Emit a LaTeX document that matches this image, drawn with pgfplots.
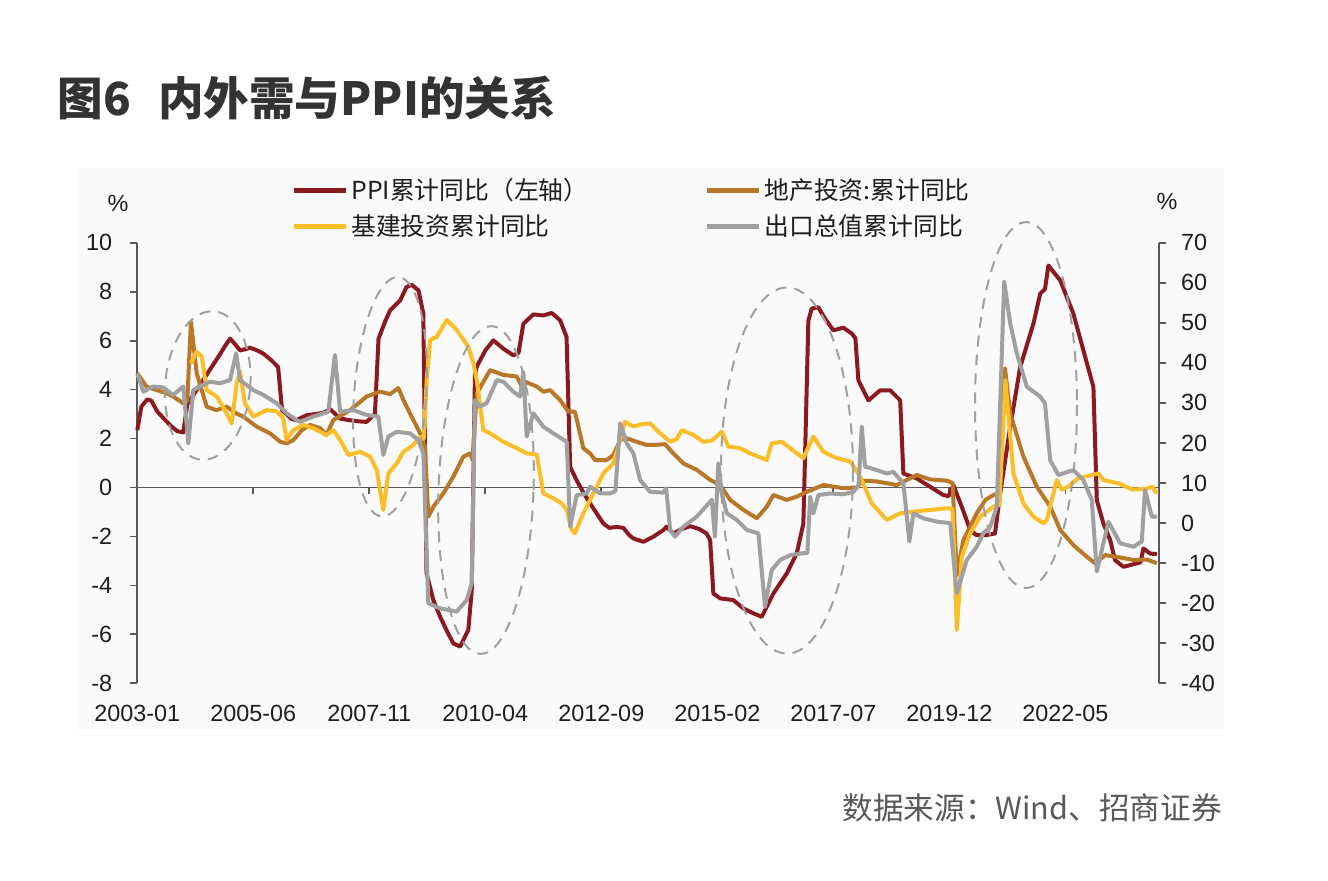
\documentclass[border=0pt]{standalone}
\usepackage{fontspec}
\setmainfont{Liberation Sans}
\newfontfamily\cjk{Noto Sans CJK SC}
\usepackage{pgfplots}
\pgfplotsset{compat=1.18}
\definecolor{ppi}{RGB}{139,26,32}
\definecolor{re}{RGB}{184,120,40}
\definecolor{infra}{RGB}{252,190,40}
\definecolor{ex}{RGB}{160,160,160}
\definecolor{axc}{RGB}{89,89,89}
\definecolor{ell}{RGB}{160,160,160}
\definecolor{panel}{RGB}{250,250,250}
\definecolor{titlec}{RGB}{51,51,51}
\definecolor{srcc}{RGB}{89,89,89}
\definecolor{tickc}{RGB}{30,30,30}
\begin{document}
\begin{tikzpicture}
\begin{scope}[x=0.5pt,y=-0.5pt]
\path[use as bounding box] (0,0) rectangle (1328,880);
\fill[white] (0,0) rectangle (1328,880);
\fill[panel] (77,168) rectangle (1224,730);
\node[anchor=west, text=titlec, font=\cjk\bfseries\fontsize{22.8}{27}\selectfont, inner sep=0pt] at (57,98) {图6\hspace{0.6em}内外需与PPI的关系};
\node[anchor=east, text=srcc, font=\cjk\fontsize{15.3}{18}\selectfont, inner sep=0pt] at (1222,808) {数据来源：Wind、招商证券};
\node[font=\fontsize{11.7}{14}\selectfont, text=tickc, inner sep=0pt] at (118,203) {\%};
\node[font=\fontsize{11.7}{14}\selectfont, text=tickc, inner sep=0pt] at (1167,201) {\%};
\end{scope}

\begin{axis}[
  at={(68.65pt,-341.65pt)}, anchor=south west,
  scale only axis, width=510.85pt, height=220.3pt,
  xmin=0, xmax=255.4, ymin=-8, ymax=10,
  axis y line*=left, axis x line*=bottom,
  x axis line style={draw=none},
  y axis line style={axc, line width=0.9pt},
  major x tick style={draw=none},
  ytick={-8,-6,...,10},
  xtick={0,29,58,87,116,145,174,203,232},
  xticklabels={2003-01,2005-06,2007-11,2010-04,2012-09,2015-02,2017-07,2019-12,2022-05},
  tick align=outside, major tick length=3.5pt,
  major y tick style={axc, line width=0.9pt},
  tick label style={font=\fontsize{11.7}{14}\selectfont, text=tickc},
  xticklabel style={yshift=-4pt},
  yticklabel style={xshift=-5.5pt},
  /pgf/number format/assume math mode=true,
  clip=false,
]
\draw[axc, line width=0.9pt] (axis cs:0,0) -- (axis cs:255.4,0);
\pgfplotsinvokeforeach{29,58,87,116,145,174,203,232}{\draw[axc, line width=0.9pt] (axis cs:#1,0) -- ++(0pt,-3.5pt);}
\addplot[ppi, line width=2pt, line join=round] coordinates {
(0,2.34) (1,3.3) (2.5,3.6) (3.5,3.55) (5,3.1) (7,2.75) (8.5,2.5) (10,2.3) (11.5,2.25)
(12.5,3.4) (14.5,3.9) (16.5,4.4) (18.5,4.9) (20.5,5.4) (22,5.8) (23.2,6.08) (24.2,5.9)
(25.7,5.6) (27,5.65) (28.2,5.71) (30,5.6) (31.5,5.47) (33.5,5.2) (35.2,4.92) (36.2,3.15)
(37.3,3.0) (38.5,2.8) (39.8,2.75) (41,2.85) (42.3,2.95) (44.5,3.0) (46.5,3.05) (48.2,3.2)
(49.5,3.0) (50.7,2.82) (53,2.75) (55.5,2.7) (57.3,2.68) (59.4,3.0) (60.3,6.08) (62,6.8)
(63.2,7.24) (65.7,7.64) (67.3,8.19) (68.6,8.28) (70.3,8.05) (71.5,7.1) (72.3,-3.5) (74,-4.6)
(75.7,-5.28) (77.5,-5.9) (79,-6.37) (80.7,-6.5) (82.75,-5.82) (83.6,-4.19) (84.4,4.6)
(84.8,4.92) (87,5.6) (89,6.01) (91.5,5.67) (94,5.4) (95.3,5.5) (96.5,6.69) (99,7.07)
(101.5,7.03) (103.6,7.13) (105.7,6.83) (107.3,6.15) (108.2,0.84) (109.8,0.3) (111.5,-0.2)
(113.2,-0.65) (115,-1.1) (116.5,-1.47) (118,-1.65) (119.8,-1.61) (121.5,-1.65) (123,-1.95)
(124,-2.08) (126.5,-2.22) (129,-2.01) (131.5,-1.74) (132.3,-1.6) (134,-1.88) (136,-1.7)
(138.2,-1.58) (140.5,-1.7) (142.3,-1.88) (143.2,-2.15) (144,-4.33) (145.7,-4.53) (149,-4.6)
(151.5,-4.94) (154,-5.14) (156.1,-5.28) (159,-4.33) (162.35,-3.51) (164.85,-2.69)
(166.5,-1.47) (167.75,6.83) (168.6,7.31) (170.2,7.37) (171.9,6.9) (174,6.42) (176.5,6.53)
(178.6,6.29) (179.5,6.1) (180.25,4.38) (182.75,3.56) (185.7,3.97) (188.2,3.97) (190.7,3.56)
(191.5,0.57) (194.85,0.37) (198.2,0.03) (201.5,-0.31) (202.8,-0.35) (204,0.09) (206.1,-0.79)
(208.2,-1.74) (209.8,-1.95) (212,-1.95) (214.4,-1.88) (215.7,-0.24) (218.2,2.47) (220.7,4.92)
(224,6.69) (225.7,7.92) (226.9,8.11) (227.75,9.07) (230.7,8.46) (234,7.1) (236.5,5.6)
(239,4.11) (239.85,-0.52) (241.5,-1.47) (243.2,-2.15) (244.4,-2.97) (246.5,-3.24)
(249.85,-3.1) (250.8,-3.05) (251.5,-2.49) (253.2,-2.7) (254.85,-2.72)
};
\end{axis}

\begin{axis}[
  at={(68.65pt,-341.65pt)}, anchor=south west,
  scale only axis, width=510.85pt, height=220.3pt,
  xmin=0, xmax=255.4, ymin=-40, ymax=70,
  axis y line*=right, hide x axis,
  y axis line style={axc, line width=0.9pt},
  ytick={-40,-30,...,70},
  tick align=outside, major tick length=3.5pt,
  major y tick style={axc, line width=0.9pt},
  tick label style={font=\fontsize{11.7}{14}\selectfont, text=tickc},
  yticklabel style={xshift=4pt},
  /pgf/number format/assume math mode=true,
  clip=false,
  legend columns=2,
  legend style={at={(0.1504,1.1537)}, anchor=north west, draw=none, fill=none, inner sep=0pt,
    font=\cjk\fontsize{12.4}{14}\selectfont, text=tickc,
    /tikz/every even column/.append style={column sep=56.5pt}, row sep=3pt,
    nodes={inner sep=1.5pt}},
  legend cell align=left,
  legend image code/.code={\draw[#1, line width=2.5pt] (0pt,0pt) -- (26pt,0pt);},
]
\addlegendimage{ppi}
\addlegendentry{PPI累计同比（左轴）}
\addplot[re, line width=2pt, line join=round] coordinates {
(0,37.4) (2.3,34.06) (4.85,33.2) (7.35,32.4) (9,31.6) (11.5,29.9) (12.5,30.5) (13.4,50.3)
(14.85,37.4) (17.35,29.06) (19.8,28.2) (22.35,29.06) (24.5,27.5) (26.5,26.57) (29.85,24.07)
(33.2,22.4) (35.7,20.3) (37.3,19.9) (39,20.7) (41.1,23.2) (43.2,24.5) (45.7,23.7) (47.3,22.0)
(49,25.7) (53.2,28.2) (57.3,31.6) (60.7,32.8) (63.2,32.2) (65.25,33.7) (66.9,29.9) (70.7,22.4)
(71.9,19.1) (72.75,1.6) (74,4.1) (76.5,7.4) (79,11.6) (81.5,16.6) (83.2,17.4) (83.8,15.8)
(84.85,32.4) (88.2,38.2) (91.5,37.0) (94.85,36.6) (96.1,34.1) (96.9,35.3) (99.85,34.1)
(101.5,32.8) (103.2,33.2) (105.7,30.7) (107.75,27.8) (109.4,27.8) (111.5,18.7) (113.2,17.4)
(114.4,15.75) (117.35,15.75) (119,17.0) (120.7,20.7) (122.35,21.2) (124.85,20.3) (127.35,19.5)
(129,19.5) (131.9,19.7) (134,17.4) (136.5,14.9) (139.85,13.3) (143.2,10.8) (145.7,9.5)
(148.2,5.8) (151.5,3.3) (154.85,1.2) (157.35,4.1) (159,7.0) (162.35,5.8) (164.85,6.6)
(167.35,7.8) (171.5,9.5) (176.5,8.7) (179.85,8.9) (181.5,10.6) (184.85,10.4) (189.85,9.5)
(193.2,11.2) (194.85,12.0) (198.2,10.9) (202.35,10.6) (203.8,10.0) (204.85,-13.0) (206.5,-4.2)
(209.85,2.45) (212,5.8) (214,7.0) (215.5,7.5) (216.9,38.65) (218.2,27.4) (221.5,16.6)
(224.85,9.1) (228.2,4.1) (230.7,-1.7) (234,-5.5) (237.35,-8.4) (239.4,-10.0) (242,-8.0)
(245.7,-8.6) (249,-9.2) (252.35,-9.1) (254.85,-10.0)
};
\addlegendentry{地产投资:累计同比}
\addplot[infra, line width=2pt, line join=round] coordinates {
(13.4,39.9) (14.85,42.8) (16.1,41.55) (17.35,33.2) (19.85,31.6) (21.9,28.2) (23.6,24.9)
(24.85,34.9) (25.7,37.8) (26.9,29.9) (29,26.6) (32.35,28.2) (34.85,27.9) (36.5,26.2)
(37.3,20.75) (39,23.2) (41.5,24.5) (44,23.7) (47.3,22.0) (49,23.2) (50.7,20.75) (52.75,17.0)
(55.7,17.8) (58.2,16.6) (59.85,13.25) (61.5,3.3) (62.75,12.4) (64.85,14.9) (66.5,17.8)
(69,19.5) (70.7,21.6) (71.6,21.0) (72.35,35.7) (73.2,45.7) (74.85,46.5) (77.35,50.7)
(79.85,48.2) (82.75,44.0) (84,40.0) (84.85,35.7) (86.5,23.2) (88.2,22.4) (91.5,20.3)
(94.85,18.7) (97.35,17.4) (99.85,17.1) (101.5,7.4) (104,6.2) (106.1,4.9) (107.35,3.3)
(108.6,-1.7) (109.4,-2.55) (111.5,2.45) (114,7.4) (116.5,12.4) (119,14.9) (120.7,20.75)
(121.9,25.3) (124,24.1) (126,24.7) (128.2,24.9) (129.85,23.2) (133.2,20.3) (134.85,21.0)
(136.1,23.2) (139,22.0) (141.5,20.3) (143.6,20.6) (146.1,22.8) (147.75,19.1) (150.7,18.7)
(153.2,17.4) (157.35,15.75) (158.6,19.9) (161.1,20.3) (163.2,18.7) (166.5,16.2) (169,21.6)
(171.5,17.8) (174.85,16.2) (178.2,15.4) (180.7,11.6) (183.6,4.9) (187.35,0.8) (190.7,2.45)
(194,2.85) (198.2,3.3) (202.35,3.7) (203.8,3.6) (204.85,-26.7) (206.1,-8.4) (208.2,-2.55)
(210.7,1.6) (214,4.1) (215.5,4.5) (217,35.7) (219,12.4) (221.5,4.9) (224,1.6) (226.5,-0.05)
(227.35,0.8) (229.85,10.75) (231.1,8.3) (232.7,9.1) (235.2,11.2) (240.2,12.4) (241.5,10.75)
(245.35,9.9) (248.7,8.4) (252,8.5) (253.7,9.1) (254.85,7.4)
};
\addlegendentry{基建投资累计同比}
\addplot[ex, line width=2pt, line join=round] coordinates {
(0,37.4) (1.5,32.8) (3.9,34.1) (6.4,33.9) (9,32.0) (11.5,34.1) (12.75,19.9) (14,33.2)
(15.7,34.1) (18.2,35.3) (20.7,34.9) (23.2,35.7) (24.7,42.4) (25.7,35.7) (29,33.2) (31.5,32.0)
(34.85,29.9) (37.35,27.4) (39.85,25.7) (40.7,25.3) (44,26.6) (47.75,27.8) (49.4,42.0)
(50.7,27.8) (54,28.2) (57.3,27.0) (60.25,26.6) (61.5,17.0) (62.75,21.6) (64.85,22.8)
(68.2,22.4) (70.25,20.75) (71.5,17.4) (72.75,-20.0) (75.7,-21.3) (79.85,-22.1) (82.35,-19.2)
(83.6,-15.0) (84.4,30.7) (85.7,29.1) (87.35,30.0) (89.85,35.7) (91.5,35.3) (94,32.8)
(95.7,31.6) (96.5,37.8) (97.35,21.6) (99,27.4) (101.5,24.07) (104,22.4) (107.35,20.3)
(108.2,-0.9) (109.85,7.0) (112.35,7.4) (113.2,9.1) (115.7,7.4) (118.2,7.4) (119.5,8.0)
(120.7,24.9) (122.35,19.9) (124,17.4) (125.7,10.75) (128.2,7.8) (131.5,7.6) (132.2,8.7)
(133.2,-1.7) (134.4,-3.4) (136.5,-0.9) (139.85,1.6) (143.6,5.8) (144.4,-3.4) (145.25,14.9)
(146.1,7.4) (147.35,2.45) (149.85,0.8) (152.35,-1.7) (155.25,-2.55) (156.9,-20.9)
(158.6,-11.7) (160.7,-9.2) (163.2,-8.0) (166.5,-7.5) (167.5,-7.5) (168.2,6.6) (169,2.45)
(170.25,7.0) (173.2,7.4) (176.5,7.2) (179,7.8) (180.3,9.5) (181.1,24.1) (181.9,14.1)
(184.85,13.25) (187.35,12.4) (189,12.8) (191.5,9.9) (193,-4.6) (194,2.45) (196.5,1.2)
(199.85,0.35) (203.2,0.0) (204.85,-17.5) (207.35,-9.2) (209.85,-5.9) (211.5,-2.5)
(213.2,-1.0) (214.85,4.1) (216.7,60.3) (218.2,49.9) (219.85,42.4) (222.35,34.06) (225.7,31.6)
(226.9,29.9) (228.2,15.75) (230.25,12.0) (234,13.25) (236.5,10.75) (238.6,5.8) (239.85,-12.1)
(242.75,0.35) (245.7,-5.05) (249,-5.9) (251.1,-4.6) (251.9,8.3) (253.6,1.6) (254.85,1.6)
};
\addlegendentry{出口总值累计同比}
\end{axis}

\begin{scope}[x=0.5pt,y=-0.5pt]
\draw[ell, line width=1pt, dash pattern=on 5.5pt off 4pt, rotate around={-5:(207.7,385.5)}] (207.7,385.5) ellipse [x radius=42.5, y radius=74.5];
\draw[ell, line width=1pt, dash pattern=on 5.5pt off 4pt, rotate around={-4:(390,396.7)}] (390,396.7) ellipse [x radius=36, y radius=120];
\draw[ell, line width=1pt, dash pattern=on 5.5pt off 4pt, rotate around={-2:(486,490)}] (486,490) ellipse [x radius=47.5, y radius=164];
\draw[ell, line width=1pt, dash pattern=on 5.5pt off 4pt] (787,470.5) ellipse [x radius=66, y radius=183];
\draw[ell, line width=1pt, dash pattern=on 5.5pt off 4pt] (1026,405) ellipse [x radius=51, y radius=183];
\end{scope}
\end{tikzpicture}
\end{document}
